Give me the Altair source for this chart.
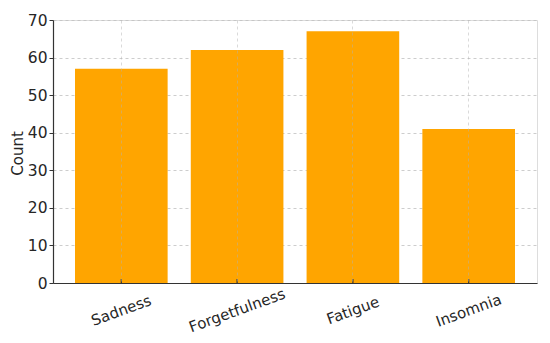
import altair as alt
import pandas as pd

categories = ["Sadness", "Forgetfulness", "Fatigue", "Insomnia"]
counts = [57, 62, 67, 41]
y_ticks = [0, 10, 20, 30, 40, 50, 60, 70]

df = pd.DataFrame({"Symptom": categories, "Count": counts})

FONT = "DejaVu Sans"
TEXT = "#262626"

x_enc = alt.X(
    "Symptom:N",
    sort=None,
    scale=alt.Scale(paddingInner=0.2, paddingOuter=0.19),
    axis=alt.Axis(
        title=None,
        labelAngle=-20,
        labelAlign="center",
        labelBaseline="middle",
        labelPadding=27,
        labelFontSize=15,
        labelFont=FONT,
        labelColor=TEXT,
        ticks=False,
        tickSize=0,
        domainColor="#333333",
        domainWidth=1.2,
        grid=True,
        bandPosition=0.5,
        gridColor="#b0b0b0",
        gridOpacity=0.6,
        gridDash=[3, 3],
        gridWidth=0.8,
        zindex=1,
    ),
)

y_enc = alt.Y(
    "Count:Q",
    scale=alt.Scale(domain=[0, 70], nice=False),
    axis=alt.Axis(
        title="Count",
        titleFont=FONT,
        titleFontSize=15,
        titleFontWeight="normal",
        titleColor=TEXT,
        titleX=-36,
        titleY=133,
        titleAngle=-90,
        titleAlign="center",
        titleBaseline="middle",
        values=y_ticks,
        labelFontSize=15.5,
        labelFont=FONT,
        labelColor=TEXT,
        labelPadding=2,
        tickSize=4,
        tickColor="#333333",
        domainColor="#333333",
        domainWidth=1.2,
        grid=True,
        gridColor="#c0c0c0",
        gridDash=[3, 3],
        gridWidth=0.8,
    ),
)

bars = alt.Chart(df).mark_bar(color="#FFA500").encode(x=x_enc, y=y_enc)

xticks = alt.Chart(df).mark_rule(color="#333333", strokeWidth=1.2).encode(
    x=alt.X("Symptom:N", sort=None),
    y=alt.value(259),
    y2=alt.value(263),
)

chart = (
    alt.layer(bars, xticks)
    .properties(
        width=484,
        height=263,
        autosize=alt.AutoSizeParams(type="none"),
        padding={"left": 45, "top": 12, "right": 5, "bottom": 52},
    )
    .configure_view(stroke=None)
    .configure(background="white")
)

chart.save("out.html", embed_options={"renderer": "svg", "actions": False})
